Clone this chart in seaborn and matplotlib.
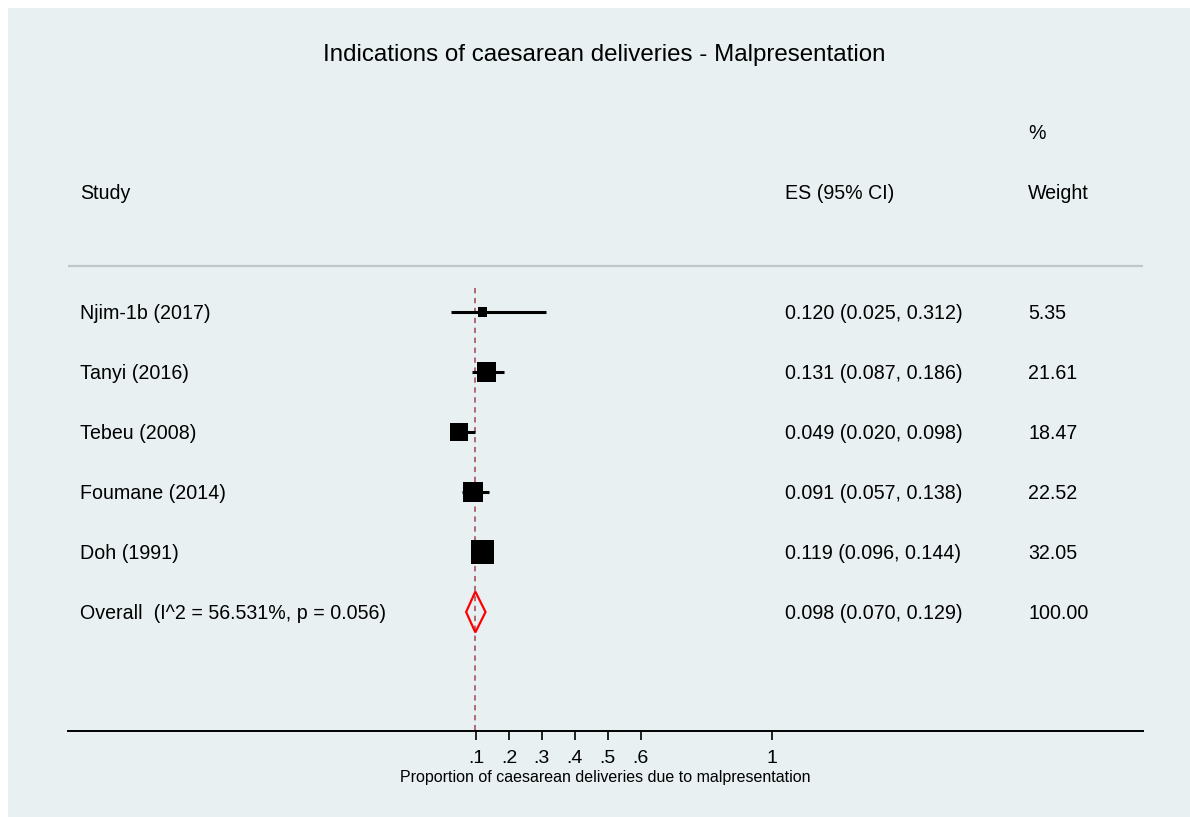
import numpy as np
import pandas as pd
import matplotlib.pyplot as plt
from matplotlib.patches import Polygon
import seaborn as sns

studies = ['Njim-1b (2017)', 'Tanyi (2016)', 'Tebeu (2008)', 'Foumane (2014)', 'Doh (1991)']
es = [0.120, 0.131, 0.049, 0.091, 0.119]
lo = [0.025, 0.087, 0.020, 0.057, 0.096]
hi = [0.312, 0.186, 0.098, 0.138, 0.144]
weights = [5.35, 21.61, 18.47, 22.52, 32.05]

overall_label = 'Overall  (I^2 = 56.531%, p = 0.056)'
overall_es, overall_lo, overall_hi = 0.098, 0.070, 0.129

xticks = [0.1, 0.2, 0.3, 0.4, 0.5, 0.6, 1]
xtick_labels = ['.1', '.2', '.3', '.4', '.5', '.6', '1']

df = pd.DataFrame({'study': studies, 'es': es, 'lo': lo, 'hi': hi,
                   'weight': weights, 'row': np.arange(1, len(studies) + 1)})

sns.set_style('white')
plt.rcParams['font.family'] = ['Liberation Sans', 'DejaVu Sans']
plt.rcParams['text.color'] = 'black'
plt.rcParams['axes.labelcolor'] = 'black'
plt.rcParams['xtick.color'] = 'black'

bg = '#e8f0f2'
W, H = 1190, 817
fig = plt.figure(figsize=(11.9, 8.17), dpi=100, facecolor='white')

# light panel behind everything
bgax = fig.add_axes([8 / W, 0, 1 - 8 / W, 1 - 8 / H], zorder=-5)
bgax.set_facecolor(bg)
bgax.set_xticks([])
bgax.set_yticks([])
for s in bgax.spines.values():
    s.set_visible(False)

ax = fig.add_axes([68 / W, (H - 731) / H, (1143 - 68) / W, (731 - 8) / H])
ax.set_facecolor('none')

x0, sc = 443.1, 329.0
ax.set_xlim((68 - x0) / sc, (1143 - x0) / sc)
ax.set_ylim((731 - 312) / 60 + 1, (8 - 312) / 60 + 1)

# reference line at overall estimate
ax.vlines(overall_es, 0.6, ax.get_ylim()[0], colors='#a0464f',
          linestyles=(0, (3.5, 3)), linewidth=1.1, zorder=1)

# confidence intervals
ax.hlines(df['row'], df['lo'], df['hi'], colors='black', linewidth=2.2, zorder=2)

# weighted boxes
sns.scatterplot(data=df, x='es', y='row', size='weight',
                sizes=(8.7 * min(weights), 8.7 * max(weights)),
                marker='s', color='black', edgecolor='black', linewidth=0,
                legend=False, ax=ax, zorder=3)

# overall diamond
orow = len(studies) + 1
h = 0.34
ax.add_patch(Polygon([(overall_lo, orow), (overall_es, orow - h),
                      (overall_hi, orow), (overall_es, orow + h)],
                     closed=True, fill=False, edgecolor='red', linewidth=1.6, zorder=4))

# header line
ax.axhline((266 - 312) / 60 + 1, color='#c2c6c8', linewidth=1.6)

fs = 14.1
dy = 0.03
xs = (80 - x0) / sc
xe = (785 - x0) / sc
xw = (1028 - x0) / sc
ax.text(xs, -1 + dy, 'Study', fontsize=fs, va='center', ha='left')
ax.text(xe, -1 + dy, 'ES (95% CI)', fontsize=fs, va='center', ha='left')
ax.text(xw, -1 + dy, 'Weight', fontsize=fs, va='center', ha='left')
ax.text(xw, -2 + dy, '%', fontsize=fs, va='center', ha='left')
ax.text((604 - x0) / sc, (53 - 312) / 60 + 1 + dy,
        'Indications of caesarean deliveries - Malpresentation',
        fontsize=17.4, va='center', ha='center')

for i, r in df.iterrows():
    ax.text(xs, r['row'] + dy, r['study'], fontsize=fs, va='center', ha='left')
    ax.text(xe, r['row'] + dy, f"{r['es']:.3f} ({r['lo']:.3f}, {r['hi']:.3f})",
            fontsize=fs, va='center', ha='left')
    ax.text(xw, r['row'] + dy, f"{r['weight']:.2f}", fontsize=fs, va='center', ha='left')

ax.text(xs, orow + dy, overall_label, fontsize=fs, va='center', ha='left')
ax.text(xe, orow + dy, f"{overall_es:.3f} ({overall_lo:.3f}, {overall_hi:.3f})",
        fontsize=fs, va='center', ha='left')
ax.text(xw, orow + dy, f"{sum(weights):.2f}", fontsize=fs, va='center', ha='left')

for s in ['top', 'left', 'right']:
    ax.spines[s].set_visible(False)
ax.spines['bottom'].set_linewidth(1.4)
ax.spines['bottom'].set_color('black')

ax.set_yticks([])
ax.set_xticks(xticks)
ax.set_xticklabels(xtick_labels)
ax.tick_params(axis='x', direction='out', length=6.5, width=1.2,
               labelsize=14, pad=7.5, bottom=True, color='black')
ax.set_xlabel('Proportion of caesarean deliveries due to malpresentation',
              fontsize=11.5, labelpad=1.5)
ax.set_ylabel('')

fig.savefig('out.png', dpi=100, facecolor='white')
